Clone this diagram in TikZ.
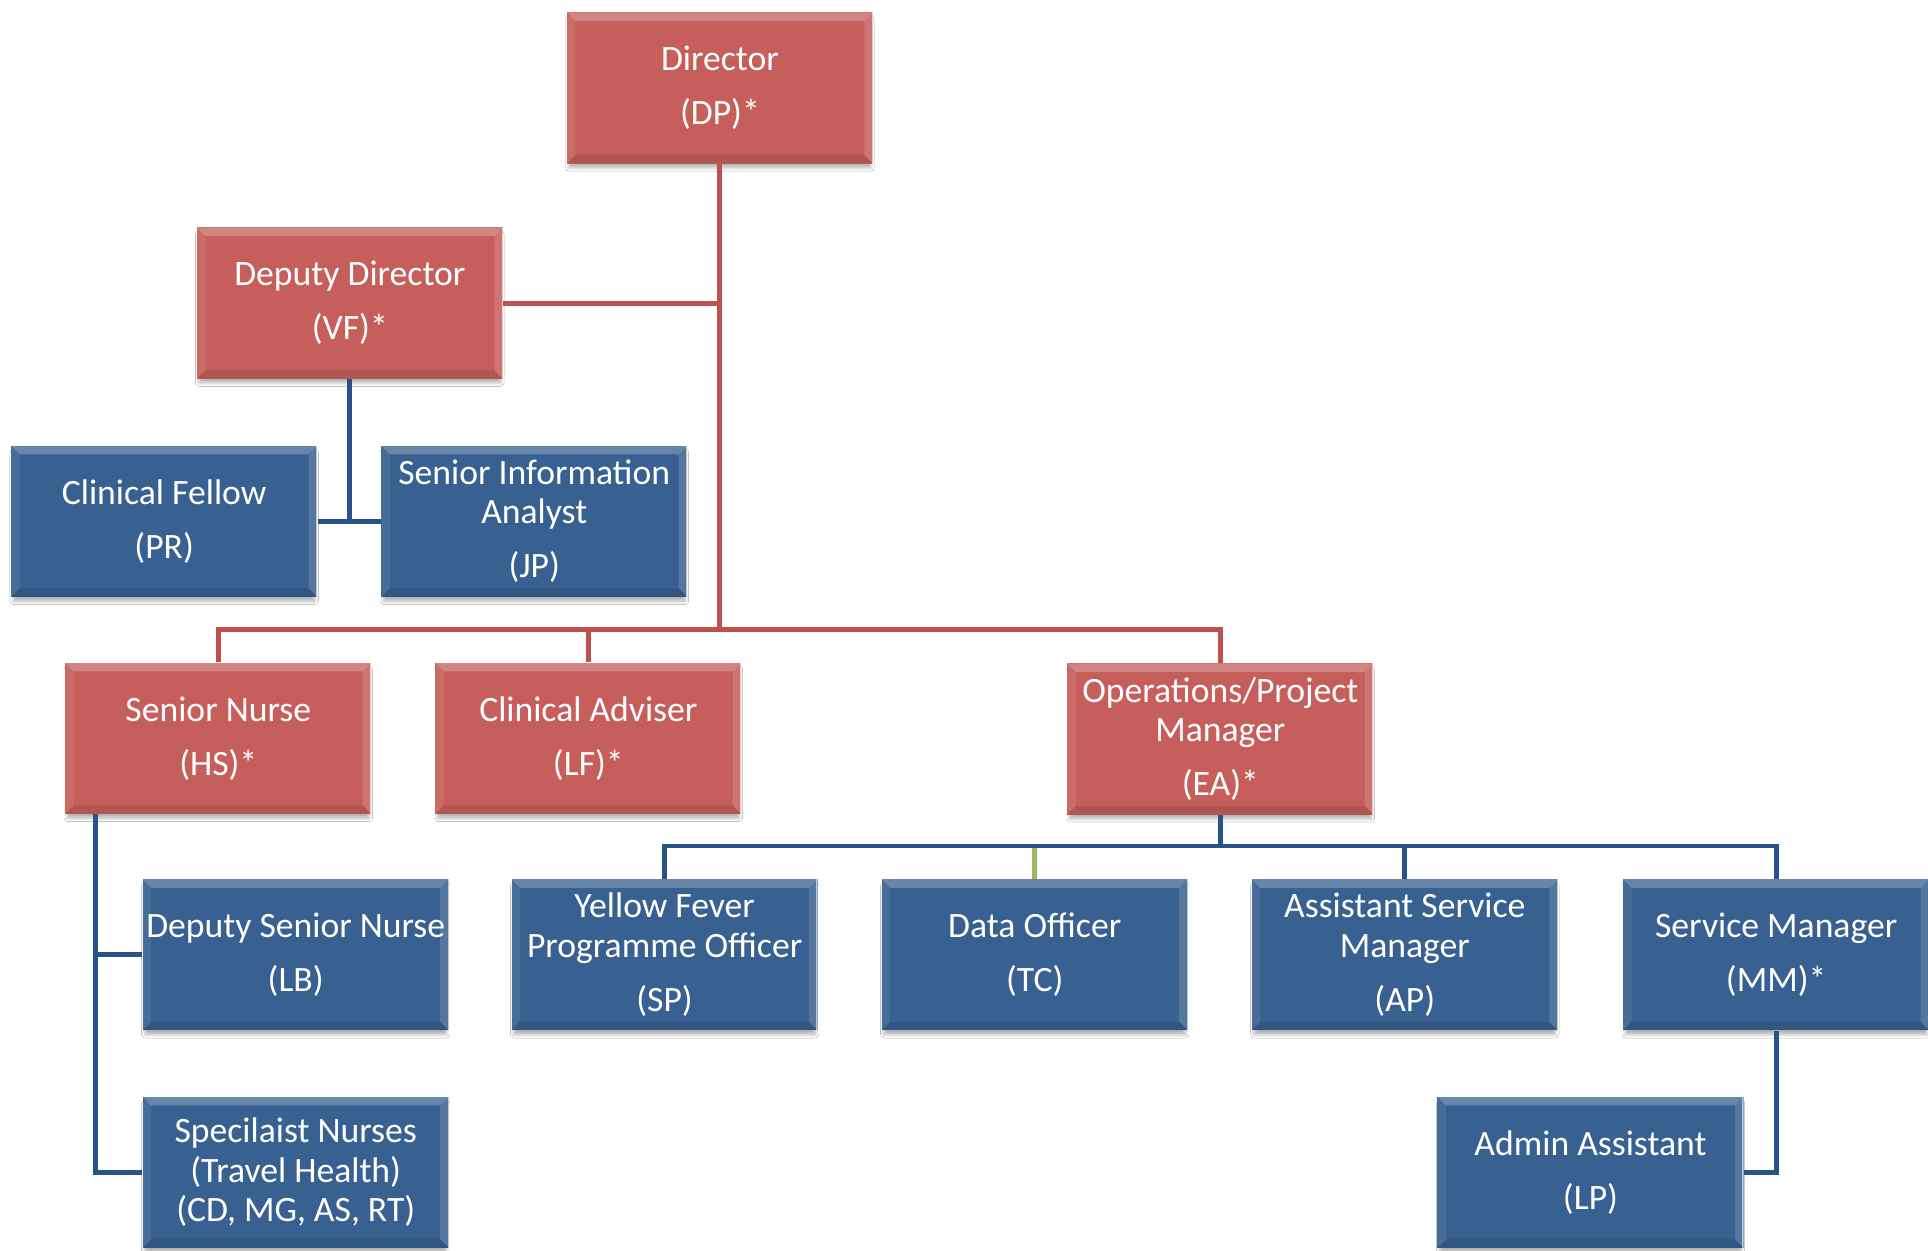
\documentclass[tikz,border=0pt]{standalone}
\usepackage{fontspec}
\setmainfont{Carlito}
\usetikzlibrary{shadows.blur,calc}
\definecolor{redfill}{HTML}{C65F5C}
\definecolor{redline}{HTML}{C0504D}
\definecolor{bluefill}{HTML}{386090}
\definecolor{blueline}{HTML}{28528A}
\definecolor{greenline}{HTML}{9BBB59}
\def\bv{3.5pt}
\tikzset{
  bevel/.style={path picture={
    \coordinate (NW) at (path picture bounding box.north west);
    \coordinate (NE) at (path picture bounding box.north east);
    \coordinate (SW) at (path picture bounding box.south west);
    \coordinate (SE) at (path picture bounding box.south east);
    \fill[white,opacity=.24] (NW) -- (NE) -- ([shift={(-\bv,-\bv)}]NE) -- ([shift={(\bv,-\bv)}]NW) -- cycle;
    \fill[white,opacity=.08] (NW) -- ([shift={(\bv,-\bv)}]NW) -- ([shift={(\bv,\bv)}]SW) -- (SW) -- cycle;
    \fill[white,opacity=.14] (NE) -- (SE) -- ([shift={(-\bv,\bv)}]SE) -- ([shift={(-\bv,-\bv)}]NE) -- cycle;
    \fill[black,opacity=.10] (SW) -- (SE) -- ([shift={(-\bv,\bv)}]SE) -- ([shift={(\bv,\bv)}]SW) -- cycle;
    \draw[white,opacity=.6,line width=0.5pt] ([xshift=-0.25pt]NE) -- ([xshift=-0.25pt]SE);
  }},
  orgbox/.style={rectangle, minimum width=124.5pt, minimum height=61.5pt, inner sep=0pt,
    text=white, align=center, font=\fontsize{14.5}{16}\selectfont, bevel,
    blur shadow={shadow xshift=0pt, shadow yshift=-2.2pt, shadow blur steps=6, shadow blur radius=1.4pt, shadow scale=0.985, shadow opacity=30}},
  redbox/.style={orgbox, fill=redfill},
  bluebox/.style={orgbox, fill=bluefill},
  redconn/.style={draw=redline, line width=2pt},
  blueconn/.style={draw=blueline, line width=2pt},
  greenconn/.style={draw=greenline, line width=2pt},
}
\begin{document}
\begin{tikzpicture}[x=0.5pt,y=-0.5pt]
\fill[white] (0,0) rectangle (1568,1017);
\useasboundingbox (0,0) rectangle (1568,1017);

\coordinate (redbus) at (585.5,512);
\coordinate (bluebus) at (992.5,688);

\node[redbox] (dir) at (585.5,71.5) {Director\\[6pt](DP)*};
\node[redbox] (dd) at (284.5,246.5) {Deputy Director\\[6pt](VF)*};
\node[bluebox] (cf) at (133.5,424) {Clinical Fellow\\[6pt](PR)};
\node[bluebox] (sia) at (434.5,424) {Senior Information\\Analyst\\[6pt](JP)};
\node[redbox] (sn) at (177.5,600.5) {Senior Nurse\\[6pt](HS)*};
\node[redbox] (ca) at (478.5,600.5) {Clinical Adviser\\[6pt](LF)*};
\node[redbox] (ops) at (992.5,601) {Operations/Project\\Manager\\[6pt](EA)*};
\node[bluebox] (dsn) at (240.5,776.5) {Deputy Senior Nurse\\[6pt](LB)};
\node[bluebox] (yf) at (540.5,776.5) {Yellow Fever\\Programme Officer\\[6pt](SP)};
\node[bluebox] (do) at (841.5,776.5) {Data Officer\\[6pt](TC)};
\node[bluebox] (asm) at (1142.5,776.5) {Assistant Service\\Manager\\[6pt](AP)};
\node[bluebox] (sm) at (1444.5,776.5) {Service Manager\\[6pt](MM)*};
\node[bluebox] (spn) at (240.5,953.5) {Specilaist Nurses\\(Travel Health)\\(CD, MG, AS, RT)};
\node[bluebox] (aa) at (1293.5,953.5) {Admin Assistant\\[6pt](LP)};

% red connectors
\draw[redconn] (dir.south) -- (redbus);
\draw[redconn] (dd.east) -- (dd.east -| dir.south);
\draw[redconn] (sn.north) |- (redbus) -| (ops.north);
\draw[redconn] (ca.north) -- (ca.north |- redbus);

% blue connectors
\draw[blueconn] (dd.south) -- (dd.south |- cf.east);
\draw[blueconn] (cf.east) -- (sia.west);
\draw[blueconn] ([xshift=12.5pt]sn.south west) |- (dsn.west);
\draw[blueconn] ([xshift=12.5pt]sn.south west) |- (spn.west);
\draw[greenconn] (do.north) -- (do.north |- bluebus);
\draw[blueconn] (ops.south) -- (bluebus);
\draw[blueconn] (yf.north) |- (bluebus) -| (sm.north);
\draw[blueconn] (asm.north) -- (asm.north |- bluebus);
\draw[blueconn] (sm.south) |- (aa.east);
\end{tikzpicture}
\end{document}
